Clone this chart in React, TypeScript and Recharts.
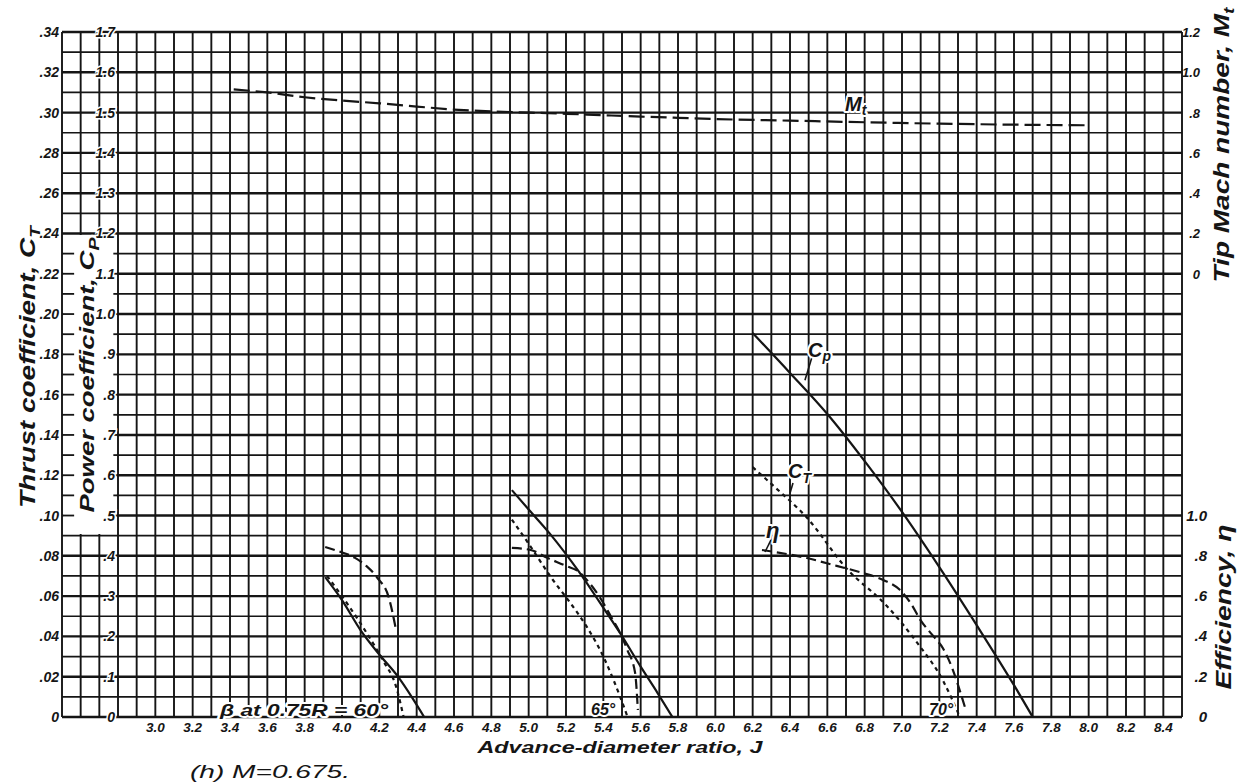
import { ComposedChart, Line, XAxis, YAxis, CartesianGrid, ReferenceArea, ReferenceLine } from 'recharts'

const WIDTH = 1247
const HEIGHT = 783
const PLOT_LEFT = 62
const PLOT_RIGHT = 1182
const PLOT_TOP = 32
const PLOT_BOTTOM = 717
const ROW_PX = (PLOT_BOTTOM - PLOT_TOP) / 34

// tick labels as printed on the sheet
const J_LABELS = ['3.0', '3.2', '3.4', '3.6', '3.8', '4.0', '4.2', '4.4', '4.6', '4.8', '5.0', '5.2', '5.4', '5.6', '5.8', '6.0', '6.2', '6.4', '6.6', '6.8', '7.0', '7.2', '7.4', '7.6', '7.8', '8.0', '8.2', '8.4']
const CT_LABELS = ['0', '.02', '.04', '.06', '.08', '.10', '.12', '.14', '.16', '.18', '.20', '.22', '.24', '.26', '.28', '.30', '.32', '.34']
const CP_LABELS = ['0', '.1', '.2', '.3', '.4', '.5', '.6', '.7', '.8', '.9', '1.0', '1.1', '1.2', '1.3', '1.4', '1.5', '1.6', '1.7']
const MACH_LABELS = ['0', '.2', '.4', '.6', '.8', '1.0', '1.2']
const ETA_LABELS = ['0', '.2', '.4', '.6', '.8', '1.0']

// graph paper: every 0.1 in J, every 0.01 in CT
const J_GRID = Array.from({ length: 61 }, (_, i) => Math.round((2.5 + i * 0.1) * 10) / 10)
const CT_GRID = Array.from({ length: 35 }, (_, i) => i / 100)
const STRIP_TICKS = CT_GRID.filter((v) => v >= 0.1 && v <= 0.23)

// blade angle 60 deg
const CP_60 = [
  { j: 3.91, cp: 0.347 }, { j: 4.0, cp: 0.29 }, { j: 4.1, cp: 0.215 }, { j: 4.2, cp: 0.155 },
  { j: 4.3, cp: 0.1 }, { j: 4.38, cp: 0.045 }, { j: 4.44, cp: 0 },
]
const CT_60 = [
  { j: 3.92, ct: 0.07 }, { j: 4.03, ct: 0.056 }, { j: 4.13, ct: 0.042 }, { j: 4.22, ct: 0.028 },
  { j: 4.29, ct: 0.015 }, { j: 4.33, ct: 0 },
]
const ETA_60 = [
  { j: 3.91, eta: 0.844 }, { j: 3.99, eta: 0.82 }, { j: 4.07, eta: 0.79 }, { j: 4.13, eta: 0.75 },
  { j: 4.19, eta: 0.69 }, { j: 4.25, eta: 0.595 }, { j: 4.29, eta: 0.43 },
]

// blade angle 65 deg
const CP_65 = [
  { j: 4.91, cp: 0.563 }, { j: 5.0, cp: 0.515 }, { j: 5.11, cp: 0.457 }, { j: 5.27, cp: 0.36 },
  { j: 5.38, cp: 0.285 }, { j: 5.49, cp: 0.208 }, { j: 5.6, cp: 0.125 }, { j: 5.69, cp: 0.06 }, { j: 5.77, cp: 0 },
]
const CT_65 = [
  { j: 4.91, ct: 0.098 }, { j: 5.0, ct: 0.086 }, { j: 5.13, ct: 0.068 }, { j: 5.22, ct: 0.057 },
  { j: 5.31, ct: 0.045 }, { j: 5.4, ct: 0.03 }, { j: 5.49, ct: 0.01 }, { j: 5.53, ct: 0 },
]
const ETA_65 = [
  { j: 4.91, eta: 0.839 }, { j: 5.01, eta: 0.829 }, { j: 5.1, eta: 0.79 }, { j: 5.2, eta: 0.75 },
  { j: 5.27, eta: 0.72 }, { j: 5.33, eta: 0.66 }, { j: 5.38, eta: 0.596 }, { j: 5.44, eta: 0.5 },
  { j: 5.49, eta: 0.417 }, { j: 5.53, eta: 0.33 }, { j: 5.57, eta: 0.22 }, { j: 5.585, eta: 0.035 },
]

// blade angle 70 deg
const CP_70 = [
  { j: 6.2, cp: 0.953 }, { j: 6.4, cp: 0.854 }, { j: 6.6, cp: 0.752 }, { j: 6.8, cp: 0.635 },
  { j: 7.0, cp: 0.509 }, { j: 7.2, cp: 0.372 }, { j: 7.4, cp: 0.228 }, { j: 7.6, cp: 0.079 }, { j: 7.7, cp: 0 },
]
const CT_70 = [
  { j: 6.2, ct: 0.124 }, { j: 6.32, ct: 0.114 }, { j: 6.49, ct: 0.099 }, { j: 6.7, ct: 0.074 },
  { j: 6.92, ct: 0.055 }, { j: 7.08, ct: 0.037 }, { j: 7.22, ct: 0.018 }, { j: 7.31, ct: 0 },
]
const ETA_70 = [
  { j: 6.25, eta: 0.829 }, { j: 6.49, eta: 0.789 }, { j: 6.65, eta: 0.75 }, { j: 6.79, eta: 0.715 },
  { j: 6.9, eta: 0.68 }, { j: 6.99, eta: 0.63 }, { j: 7.05, eta: 0.56 }, { j: 7.1, eta: 0.48 },
  { j: 7.16, eta: 0.41 }, { j: 7.22, eta: 0.34 }, { j: 7.27, eta: 0.24 }, { j: 7.31, eta: 0.13 }, { j: 7.34, eta: 0.04 },
]

// tip Mach number
const MT = [
  { j: 3.42, mt: 0.915 }, { j: 3.6, mt: 0.9 }, { j: 3.8, mt: 0.876 }, { j: 4.0, mt: 0.86 },
  { j: 4.2, mt: 0.846 }, { j: 4.4, mt: 0.83 }, { j: 4.6, mt: 0.815 }, { j: 4.8, mt: 0.806 },
  { j: 5.0, mt: 0.8 }, { j: 5.2, mt: 0.794 }, { j: 5.4, mt: 0.787 }, { j: 5.6, mt: 0.78 },
  { j: 5.8, mt: 0.774 }, { j: 6.0, mt: 0.768 }, { j: 6.4, mt: 0.76 }, { j: 6.8, mt: 0.752 },
  { j: 7.2, mt: 0.745 }, { j: 7.6, mt: 0.74 }, { j: 8.0, mt: 0.737 },
]

const INK = '#151515'
const FONT = "'Liberation Sans', Arial, sans-serif"
const TICK_STYLE = { fontFamily: FONT, fontStyle: 'italic', fontWeight: 700, fill: INK } as const
const HALO = { paintOrder: 'stroke', stroke: '#fff', strokeWidth: 4, strokeLinejoin: 'round' } as const

function JTick(props: any) {
  const label = J_LABELS.find((l) => Number(l) === props.payload.value)
  if (!label) return <g />
  return (
    <text x={props.x} y={PLOT_BOTTOM + 15} textAnchor="middle" fontSize={13.5} style={TICK_STYLE}>
      {label}
    </text>
  )
}

function CtTick(props: any) {
  const label = CT_LABELS.find((l) => Number(l) === props.payload.value)
  if (!label) return <g />
  return (
    <text x={PLOT_LEFT - 3} y={props.y + 5} textAnchor="end" fontSize={14} style={TICK_STYLE}>
      {label}
    </text>
  )
}

function CpTick(props: any) {
  const label = CP_LABELS.find((l) => Number(l) === props.payload.value)
  if (!label) return <g />
  return (
    <text x={PLOT_LEFT + 53} y={props.y + 5} textAnchor="end" fontSize={14} stroke="#fff" strokeWidth={3} paintOrder="stroke" style={TICK_STYLE}>
      {label}
    </text>
  )
}

function MachTick(props: any) {
  const label = MACH_LABELS.find((l) => Number(l) === props.payload.value)
  if (!label) return <g />
  return (
    <text x={PLOT_RIGHT + 18} y={props.y + 5} textAnchor="end" fontSize={13} style={TICK_STYLE}>
      {label}
    </text>
  )
}

function EtaTick(props: any) {
  const label = ETA_LABELS.find((l) => Number(l) === props.payload.value)
  if (!label) return <g />
  return (
    <text x={PLOT_RIGHT + 25} y={props.y + 5} textAnchor="end" fontSize={15} style={TICK_STYLE}>
      {label}
    </text>
  )
}

function HLine(p: any) {
  const row = Math.round((PLOT_BOTTOM - p.y1) / ROW_PX)
  return <line key={p.key} x1={p.x1} y1={p.y1} x2={p.x2} y2={p.y2} stroke={INK} strokeWidth={row % 2 === 0 ? 2.4 : 1.7} />
}

function VLine(p: any) {
  return <line key={p.key} x1={p.x1} y1={p.y1} x2={p.x2} y2={p.y2} stroke={INK} strokeWidth={1.9} />
}

function curve(key: string, data: any[], dataKey: string, yAxisId: string, dash?: string) {
  return (
    <Line
      key={key}
      xAxisId="j"
      yAxisId={yAxisId}
      data={data}
      dataKey={dataKey}
      type="monotone"
      stroke={INK}
      strokeWidth={2.2}
      strokeDasharray={dash}
      dot={false}
      activeDot={false}
      isAnimationActive={false}
    />
  )
}

export default function App() {
  // each y axis keeps 1px so that its ticks are still drawn
  return (
    <div style={{ position: 'absolute', left: 0, top: 0, width: WIDTH, height: HEIGHT, background: '#fff' }}>
      <ComposedChart width={WIDTH} height={HEIGHT} margin={{ top: PLOT_TOP, right: WIDTH - PLOT_RIGHT - 2, bottom: HEIGHT - PLOT_BOTTOM - 30, left: PLOT_LEFT - 2 }}>
        <CartesianGrid xAxisId="j" yAxisId="ct" horizontal={HLine} vertical={VLine} />
        <XAxis xAxisId="j" dataKey="j" type="number" domain={[2.5, 8.5]} ticks={J_GRID} interval={0} allowDataOverflow height={30} axisLine={false} tickLine={false} tick={JTick} />
        <YAxis yAxisId="ct" type="number" domain={[0, 0.34]} ticks={CT_GRID} interval={0} allowDataOverflow width={1} axisLine={false} tickLine={false} tick={CtTick} />
        <YAxis yAxisId="cp" type="number" domain={[0, 1.7]} ticks={CP_LABELS.map(Number)} interval={0} allowDataOverflow width={1} axisLine={false} tickLine={false} tick={CpTick} />
        <YAxis yAxisId="mach" orientation="right" type="number" domain={[-2.2, 1.2]} ticks={MACH_LABELS.map(Number)} interval={0} allowDataOverflow width={1} axisLine={false} tickLine={false} tick={MachTick} />
        <YAxis yAxisId="eta" orientation="right" type="number" domain={[0, 3.4]} ticks={ETA_LABELS.map(Number)} interval={0} allowDataOverflow width={1} axisLine={false} tickLine={false} tick={EtaTick} />

        {/* blank strip between the two left scales */}
        <ReferenceArea xAxisId="j" yAxisId="ct" x1={2.506} x2={2.794} y1={0.0908} y2={0.2392} fill="#fff" fillOpacity={1} stroke="none" />
        {STRIP_TICKS.map((v) => (
          <ReferenceLine key={`sl${v}`} xAxisId="j" yAxisId="ct" segment={[{ x: 2.5, y: v }, { x: 2.565, y: v }]} stroke={INK} strokeWidth={1.8} />
        ))}
        {STRIP_TICKS.map((v) => (
          <ReferenceLine key={`sr${v}`} xAxisId="j" yAxisId="ct" segment={[{ x: 2.775, y: v }, { x: 2.8, y: v }]} stroke={INK} strokeWidth={1.8} />
        ))}

        {/* leaders to curve labels */}
        <ReferenceLine xAxisId="j" yAxisId="ct" segment={[{ x: 6.518, y: 0.1787 }, { x: 6.48, y: 0.1672 }]} stroke={INK} strokeWidth={1.6} />
        <ReferenceLine xAxisId="j" yAxisId="ct" segment={[{ x: 6.416, y: 0.1161 }, { x: 6.4, y: 0.111 }]} stroke={INK} strokeWidth={1.6} />
        <ReferenceLine xAxisId="j" yAxisId="ct" segment={[{ x: 6.303, y: 0.0888 }, { x: 6.266, y: 0.0819 }]} stroke={INK} strokeWidth={1.6} />

        {curve('mt', MT, 'mt', 'mach', '16 6')}
        {curve('cp60', CP_60, 'cp', 'cp')}
        {curve('ct60', CT_60, 'ct', 'ct', '4 4')}
        {curve('eta60', ETA_60, 'eta', 'eta', '10 5')}
        {curve('cp65', CP_65, 'cp', 'cp')}
        {curve('ct65', CT_65, 'ct', 'ct', '4 4')}
        {curve('eta65', ETA_65, 'eta', 'eta', '10 5')}
        {curve('cp70', CP_70, 'cp', 'cp')}
        {curve('ct70', CT_70, 'ct', 'ct', '4 4')}
        {curve('eta70', ETA_70, 'eta', 'eta', '10 5')}
      </ComposedChart>

      <svg width={WIDTH} height={HEIGHT} style={{ position: 'absolute', left: 0, top: 0, pointerEvents: 'none' }}>
        <g style={TICK_STYLE}>
          <text x={27} y={367} dy="0.35em" transform="rotate(-90 27 367)" textAnchor="middle" fontSize={22} textLength={282} lengthAdjust="spacingAndGlyphs">
            Thrust coefficient, C<tspan fontSize={15} dy={5}>T</tspan>
          </text>
          <text x={87} y={375} dy="0.35em" transform="rotate(-90 87 375)" textAnchor="middle" fontSize={21} textLength={275} lengthAdjust="spacingAndGlyphs" style={HALO}>
            Power coefficient, C<tspan fontSize={15} dy={5}>P</tspan>
          </text>
          <text x={1221} y={145} dy="0.35em" transform="rotate(-90 1221 145)" textAnchor="middle" fontSize={22} textLength={275} lengthAdjust="spacingAndGlyphs">
            Tip Mach number, M<tspan fontSize={15} dy={5}>t</tspan>
          </text>
          <text x={1223} y={607} dy="0.35em" transform="rotate(-90 1223 607)" textAnchor="middle" fontSize={22} textLength={165} lengthAdjust="spacingAndGlyphs">
            Efficiency, η
          </text>
          <text x={620} y={753} textAnchor="middle" fontSize={17} textLength={285} lengthAdjust="spacingAndGlyphs">
            Advance-diameter ratio, J
          </text>
          <text x={190} y={778} fontSize={19} fontWeight={400} textLength={160} lengthAdjust="spacingAndGlyphs">
            (h) M=0.675.
          </text>

          <text x={220} y={716} fontSize={17} textLength={168} lengthAdjust="spacingAndGlyphs" style={HALO}>
            β at 0.75R = 60°
          </text>
          <text x={591} y={715} fontSize={16} style={HALO}>65°</text>
          <text x={929} y={715} fontSize={16} style={HALO}>70°</text>

          <text x={808} y={357} fontSize={20} style={HALO}>
            C<tspan fontSize={14} dy={4}>p</tspan>
          </text>
          <text x={788} y={478} fontSize={20} style={HALO}>
            C<tspan fontSize={14} dy={5}>T</tspan>
          </text>
          <text x={766} y={538} fontSize={22} style={HALO}>η</text>
          <text x={845} y={111} fontSize={20} style={HALO}>
            M<tspan fontSize={14} dy={4}>t</tspan>
          </text>
        </g>
      </svg>
    </div>
  )
}
